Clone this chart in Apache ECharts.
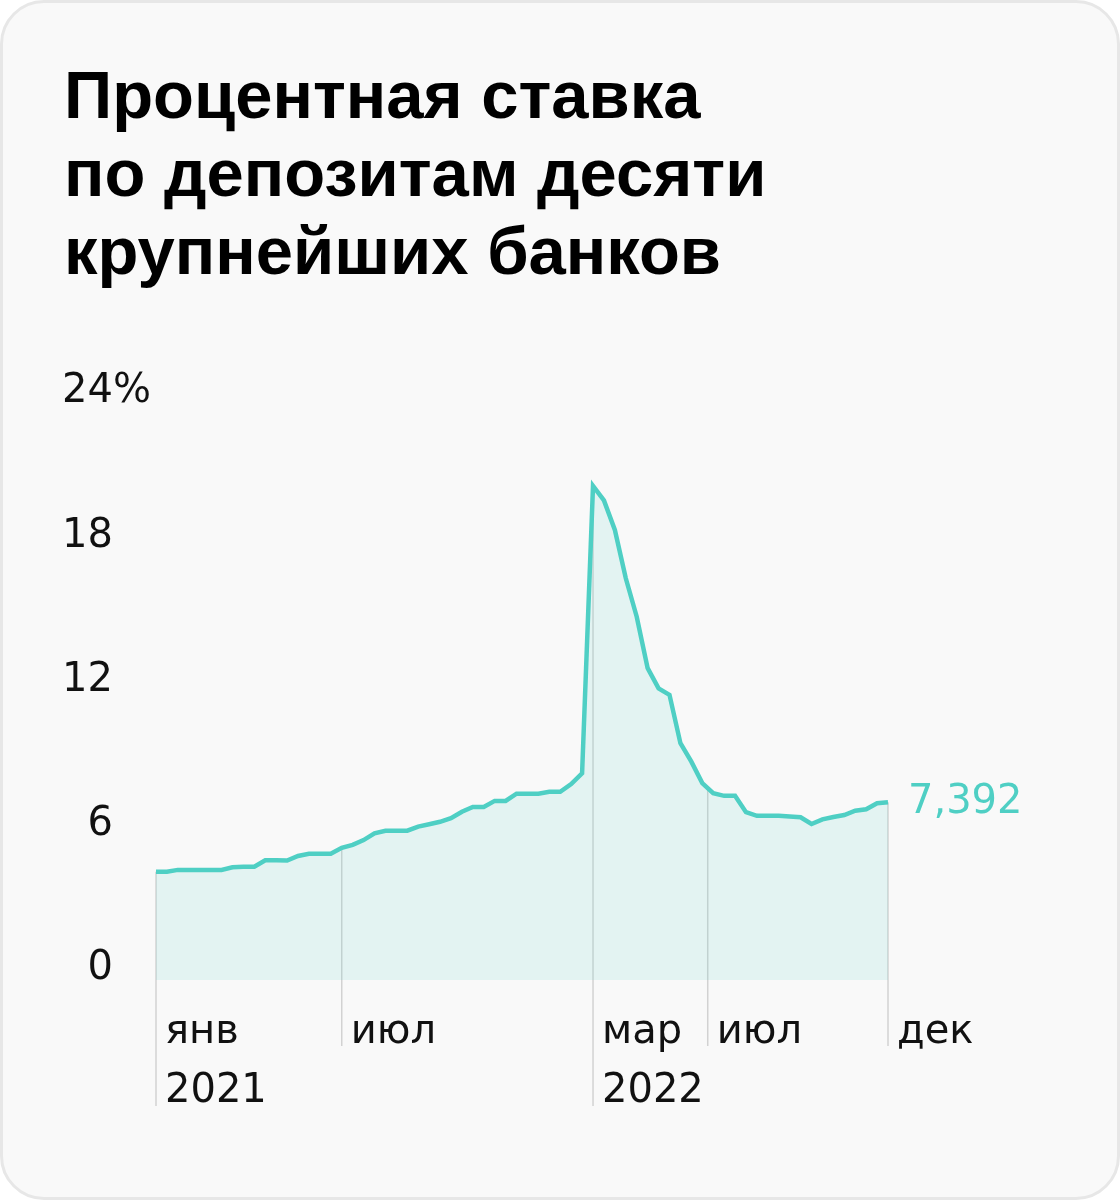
<!DOCTYPE html>
<html>
<head>
<meta charset="utf-8">
<script src="https://cdn.jsdelivr.net/npm/echarts@6/dist/echarts.min.js"></script>
<style>
  html, body { margin: 0; padding: 0; background: #ffffff; }
  #card {
    position: absolute; left: 0; top: 0; width: 1120px; height: 1200px;
    box-sizing: border-box; border: 3px solid #e7e7e7; border-radius: 44px;
    background: #f9f9f9;
  }
  #chart { position: absolute; left: 0; top: 0; width: 1120px; height: 1200px; }
</style>
</head>
<body>
<div id="card"></div>
<div id="chart"></div>
<script>
// max deposit rate of top-10 banks, by dekad (Jan 2021 .. Dec 2022), %
const rates = [
  4.50, 4.50, 4.58, 4.58, 4.58, 4.58, 4.58, 4.69, 4.71, 4.71,
  4.98, 4.98, 4.97, 5.16, 5.25, 5.25, 5.25, 5.50, 5.62, 5.82,
  6.10, 6.21, 6.21, 6.21, 6.38, 6.48, 6.58, 6.73, 7.00, 7.20,
  7.20, 7.45, 7.45, 7.75, 7.75, 7.75, 7.83, 7.83, 8.15, 8.60,
  20.55, 19.95, 18.72, 16.71, 15.11, 12.97, 12.13, 11.86, 9.85, 9.08,
  8.19, 7.77, 7.66, 7.66, 6.98, 6.83, 6.83, 6.83, 6.80, 6.77,
  6.49, 6.68, 6.78, 6.86, 7.04, 7.10, 7.35, 7.392
];
// month markers: position on the dekad index scale, month and year text
const markPos = [0, 17, 40, 50.5, 67];
const markMonth = ['янв', 'июл', 'мар', 'июл', 'дек'];
const markYear = ['2021', '', '2022', '', ''];
const yTicks = [0, 6, 12, 18, 24];

const teal = '#4fcfc4';
const font = 'DejaVu Sans';

const points = rates.map((v, i) => [i, v]);

function rateAt(x) {
  const i0 = Math.floor(x), i1 = Math.min(Math.ceil(x), rates.length - 1);
  const t = x - i0;
  return rates[i0] * (1 - t) + rates[i1] * t;
}

const chart = echarts.init(document.getElementById('chart'));
chart.setOption({
  animation: false,
  backgroundColor: 'transparent',
  title: {
    text: 'Процентная ставка\nпо депозитам десяти\nкрупнейших банков',
    left: 59,
    top: 56,
    textStyle: {
      fontFamily: 'Liberation Sans',
      fontWeight: 'bold',
      fontSize: 67,
      lineHeight: 78,
      color: '#000'
    }
  },
  grid: { left: 156, right: 232, top: 403, bottom: 220, containLabel: false },
  xAxis: { type: 'value', min: 0, max: rates.length - 1, show: false },
  yAxis: {
    type: 'value', min: 0, max: 24, interval: 6,
    axisLine: { show: false }, axisTick: { show: false }, splitLine: { show: false },
    axisLabel: {
      margin: 5,
      align: 'right',
      verticalAlign: 'bottom',
      // '%' only shown on the top tick, kept invisible on the others so numbers line up
      formatter: v => '{n|' + v + '}' + (v === yTicks[yTicks.length - 1] ? '{p|%}' : '{h|%}'),
      rich: {
        n: { fontFamily: font, fontSize: 40, lineHeight: 22, color: '#111' },
        p: { fontFamily: font, fontSize: 40, lineHeight: 22, color: '#111' },
        h: { fontFamily: font, fontSize: 40, lineHeight: 22, color: 'rgba(0,0,0,0)' }
      }
    }
  },
  series: [
    {
      type: 'custom',
      clip: false,
      z: 1,
      silent: true,
      data: markPos.map(p => [p, 0]),
      renderItem: function (params, api) {
        const i = params.dataIndex;
        const x = api.value(0);
        const top = api.coord([x, rateAt(x)]);
        const base = api.coord([x, 0]);
        const hasYear = markYear[i] !== '';
        const lineEnd = base[1] + (hasYear ? 126 : 66);
        const children = [
          {
            type: 'line',
            shape: { x1: top[0], y1: top[1], x2: top[0], y2: lineEnd },
            style: { stroke: '#d2d2d2', lineWidth: 1.5 }
          },
          {
            type: 'text',
            style: {
              text: markMonth[i], x: top[0] + 9, y: base[1] + 73,
              font: '40px "' + font + '"', fill: '#111',
              textAlign: 'left', textVerticalAlign: 'bottom'
            }
          }
        ];
        if (hasYear) {
          children.push({
            type: 'text',
            style: {
              text: markYear[i], x: top[0] + 9, y: base[1] + 132,
              font: '40px "' + font + '"', fill: '#111',
              textAlign: 'left', textVerticalAlign: 'bottom'
            }
          });
        }
        return { type: 'group', children: children };
      }
    },
    {
      type: 'line',
      z: 3,
      data: points,
      symbol: 'none',
      lineStyle: { color: teal, width: 4.5, join: 'miter' },
      areaStyle: { color: 'rgba(79,207,196,0.18)', origin: 'start' },
      endLabel: {
        show: true,
        distance: 20,
        formatter: p => String(p.value[1]).replace('.', ','),
        color: teal,
        fontFamily: font,
        fontSize: 40
      }
    }
  ]
});
</script>
</body>
</html>
